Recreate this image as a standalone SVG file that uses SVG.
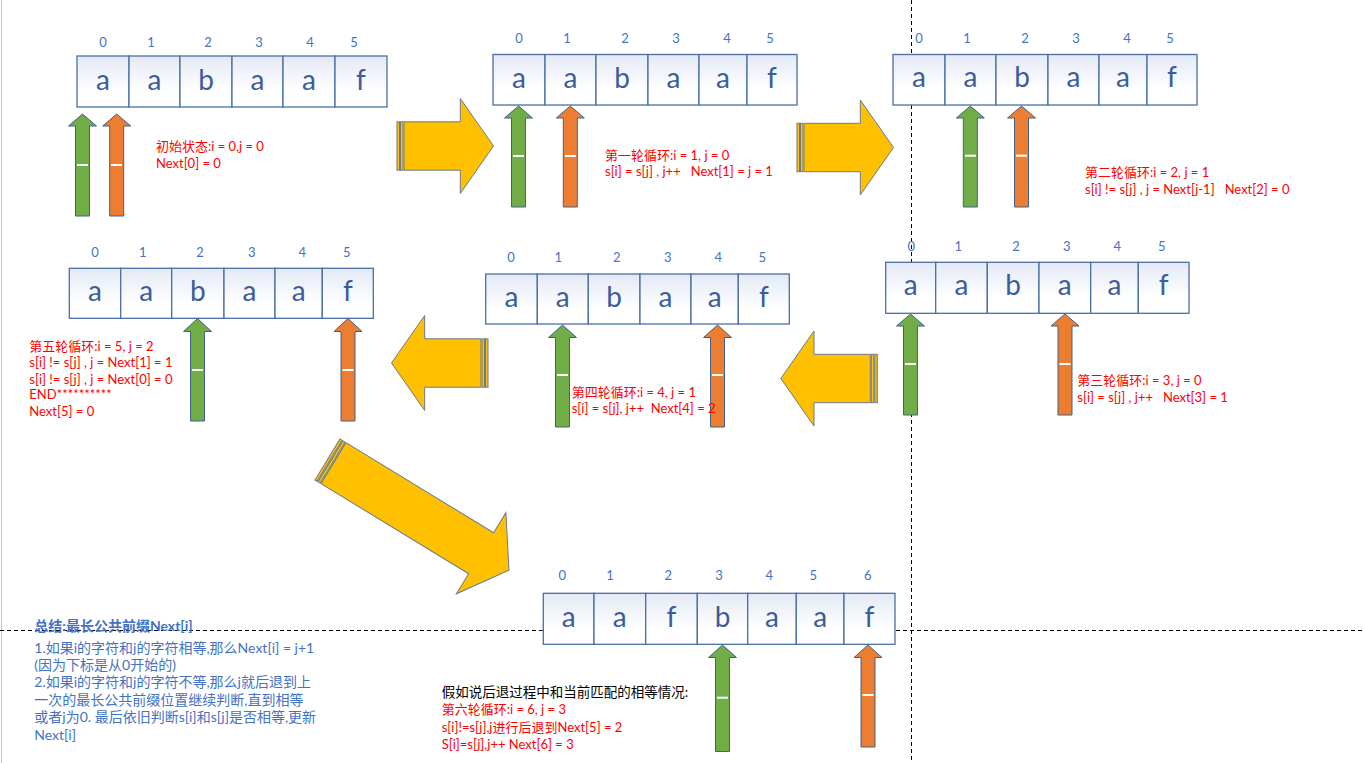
<svg xmlns="http://www.w3.org/2000/svg" width="1363" height="763" viewBox="0 0 1363 763">
<defs>
<linearGradient id="cg" x1="0" y1="0" x2="0" y2="1">
<stop offset="0" stop-color="#e3e9f5"/>
<stop offset="0.7" stop-color="#ffffff"/>
</linearGradient>
<g id="yarrow">
<rect x="0" y="-24.2" width="2.5" height="48.4" class="y"/>
<rect x="3.5" y="-24.2" width="2.5" height="48.4" class="y"/>
<polygon points="7,-24.2 63.3,-24.2 63.3,-47.5 96.5,0 63.3,47.5 63.3,24.2 7,24.2" class="y"/>
</g>
</defs>
<style>
.cell{fill:url(#cg);stroke:#4a6fa5;stroke-width:1.3}
.ch{font-family:Lato,"Noto Sans",sans-serif;font-size:28px;fill:#3c5d9c;text-anchor:middle}
.idx{font-family:Lato,"Noto Sans",sans-serif;font-size:13px;fill:#4472c4;text-anchor:middle}
.g{fill:#70ad47;stroke:#41618c;stroke-width:1}
.o{fill:#ed7d31;stroke:#41618c;stroke-width:1}
.wd{stroke:#ffffff;stroke-width:2}
.red{font-family:Lato,"Noto Sans CJK SC",sans-serif;font-size:13px;fill:#ff0000}
.sum{font-family:Lato,"Noto Sans CJK SC",sans-serif;font-size:14px;fill:#4472c4}
.blk{font-family:Lato,"Noto Sans CJK SC",sans-serif;font-size:13.5px;fill:#000000}
.y{fill:#ffc000;stroke:#6b7a8f;stroke-width:1}
.dl{stroke:#000;stroke-width:1;stroke-dasharray:4 3;fill:none}
</style>
<rect width="1363" height="763" fill="#ffffff"/>
<g id="guides">
<line x1="1.5" y1="0" x2="1.5" y2="763" stroke="#c8c8c8" stroke-width="1"/>
<line class="dl" x1="911.5" y1="0" x2="911.5" y2="763"/>
<line class="dl" x1="0" y1="630.5" x2="1363" y2="630.5"/>
</g>
<g id="connectors">
<use href="#yarrow" transform="translate(397,146)"/>
<use href="#yarrow" transform="translate(797,147.5)"/>
<use href="#yarrow" transform="translate(488,363) scale(-1,1)"/>
<use href="#yarrow" transform="translate(877.3,378.5) scale(-1,1)"/>
<g transform="translate(327.5,459.5) rotate(31.4)">
<rect x="0" y="-24" width="2.5" height="48" class="y"/>
<rect x="3.5" y="-24" width="2.5" height="48" class="y"/>
<polygon points="7,-24 180,-24 180,-47.5 212.6,0 180,47.5 180,24 7,24" class="y"/>
</g>
</g>
<g id="step0">
<text class="idx" x="103" y="46.5">0</text><text class="idx" x="151" y="46.5">1</text><text class="idx" x="208" y="46.5">2</text><text class="idx" x="259" y="46.5">3</text><text class="idx" x="310" y="46.5">4</text><text class="idx" x="354" y="46.5">5</text>
<rect class="cell" x="77" y="56" width="52" height="51"/><rect class="cell" x="129" y="56" width="51" height="51"/><rect class="cell" x="180" y="56" width="52" height="51"/><rect class="cell" x="232" y="56" width="51" height="51"/><rect class="cell" x="283" y="56" width="52" height="51"/><rect class="cell" x="335" y="56" width="52" height="51"/>
<text class="ch" x="103" y="90">a</text><text class="ch" x="154.5" y="90">a</text><text class="ch" x="206" y="90">b</text><text class="ch" x="257.5" y="90">a</text><text class="ch" x="309" y="90">a</text><text class="ch" x="361" y="90">f</text>
<polygon class="g" points="82.5,114 96.5,126 89.5,126 89.5,216 75.5,216 75.5,126 68.5,126"/>
<polygon class="o" points="116.7,114 130.7,126 123.7,126 123.7,216 109.7,216 109.7,126 102.7,126"/>
<line class="wd" x1="77" y1="165" x2="88" y2="165"/><line class="wd" x1="111" y1="165" x2="122" y2="165"/>
<text class="red" x="156" y="151">初始状态:i = 0,j = 0</text>
<text class="red" x="156" y="167.7">Next[0] = 0</text>
</g>
<g id="step1">
<text class="idx" x="519" y="43.3">0</text><text class="idx" x="567" y="43.3">1</text><text class="idx" x="625" y="43.3">2</text><text class="idx" x="676" y="43.3">3</text><text class="idx" x="727" y="43.3">4</text><text class="idx" x="770" y="43.3">5</text>
<rect class="cell" x="493" y="54.5" width="52" height="50.5"/><rect class="cell" x="545" y="54.5" width="51" height="50.5"/><rect class="cell" x="596" y="54.5" width="52" height="50.5"/><rect class="cell" x="648" y="54.5" width="51" height="50.5"/><rect class="cell" x="699" y="54.5" width="48" height="50.5"/><rect class="cell" x="747" y="54.5" width="50" height="50.5"/>
<text class="ch" x="519" y="87.5">a</text><text class="ch" x="570.5" y="87.5">a</text><text class="ch" x="622" y="87.5">b</text><text class="ch" x="673.5" y="87.5">a</text><text class="ch" x="723" y="87.5">a</text><text class="ch" x="772" y="87.5">f</text>
<polygon class="g" points="518.5,106 532.5,118 525.5,118 525.5,207 511.5,207 511.5,118 504.5,118"/>
<polygon class="o" points="570.3,106 584.3,118 577.3,118 577.3,207 563.3,207 563.3,118 556.3,118"/>
<line class="wd" x1="513" y1="156" x2="524" y2="156"/><line class="wd" x1="565" y1="156" x2="576" y2="156"/>
<text class="red" x="605" y="160">第一轮循环:i = 1, j = 0</text>
<text class="red" x="605" y="176" xml:space="preserve">s[i] = s[j] , j++   Next[1] = j = 1</text>
</g>
<g id="step2">
<text class="idx" x="919" y="43.3">0</text><text class="idx" x="967" y="43.3">1</text><text class="idx" x="1025" y="43.3">2</text><text class="idx" x="1076" y="43.3">3</text><text class="idx" x="1127" y="43.3">4</text><text class="idx" x="1170" y="43.3">5</text>
<rect class="cell" x="893" y="54.5" width="52" height="50.5"/><rect class="cell" x="945" y="54.5" width="51" height="50.5"/><rect class="cell" x="996" y="54.5" width="52" height="50.5"/><rect class="cell" x="1048" y="54.5" width="51" height="50.5"/><rect class="cell" x="1099" y="54.5" width="48" height="50.5"/><rect class="cell" x="1147" y="54.5" width="50" height="50.5"/>
<text class="ch" x="919" y="86.5">a</text><text class="ch" x="970.5" y="86.5">a</text><text class="ch" x="1022" y="86.5">b</text><text class="ch" x="1073.5" y="86.5">a</text><text class="ch" x="1123" y="86.5">a</text><text class="ch" x="1172" y="86.5">f</text>
<polygon class="g" points="970.3,106 984.3,118 977.3,118 977.3,207 963.3,207 963.3,118 956.3,118"/>
<polygon class="o" points="1021.5,106 1035.5,118 1028.5,118 1028.5,207 1014.5,207 1014.5,118 1007.5,118"/>
<line class="wd" x1="965" y1="155.7" x2="976" y2="155.7"/><line class="wd" x1="1016" y1="155.7" x2="1027" y2="155.7"/>
<text class="red" x="1085" y="176.7">第二轮循环:i = 2, j = 1</text>
<text class="red" x="1085" y="194" xml:space="preserve">s[i] != s[j] , j = Next[j-1]   Next[2] = 0</text>
</g>
<g id="step3">
<text class="idx" x="911.3" y="250.7">0</text><text class="idx" x="958.3" y="250.7">1</text><text class="idx" x="1016" y="250.7">2</text><text class="idx" x="1066.7" y="250.7">3</text><text class="idx" x="1117.3" y="250.7">4</text><text class="idx" x="1161.7" y="250.7">5</text>
<rect class="cell" x="885.7" y="262.3" width="50" height="51"/><rect class="cell" x="935.7" y="262.3" width="51.6" height="51"/><rect class="cell" x="987.3" y="262.3" width="51.7" height="51"/><rect class="cell" x="1039" y="262.3" width="51.7" height="51"/><rect class="cell" x="1090.7" y="262.3" width="47.6" height="51"/><rect class="cell" x="1138.3" y="262.3" width="50.7" height="51"/>
<text class="ch" x="910.7" y="295">a</text><text class="ch" x="961.5" y="295">a</text><text class="ch" x="1013" y="295">b</text><text class="ch" x="1064.8" y="295">a</text><text class="ch" x="1114.5" y="295">a</text><text class="ch" x="1163.6" y="295">f</text>
<polygon class="g" points="910.5,314 924.5,326 917.5,326 917.5,415 903.5,415 903.5,326 896.5,326"/>
<polygon class="o" points="1065,314 1079,326 1072,326 1072,415 1058,415 1058,326 1051,326"/>
<line class="wd" x1="905" y1="364" x2="916" y2="364"/><line class="wd" x1="1059.5" y1="364" x2="1070.5" y2="364"/>
<text class="red" x="1077.3" y="385">第三轮循环:i = 3, j = 0</text>
<text class="red" x="1077.3" y="401.7" xml:space="preserve">s[i] = s[j] , j++   Next[3] = 1</text>
</g>
<g id="step4">
<text class="idx" x="511" y="261.7">0</text><text class="idx" x="558.3" y="261.7">1</text><text class="idx" x="616.7" y="261.7">2</text><text class="idx" x="667.7" y="261.7">3</text><text class="idx" x="718.3" y="261.7">4</text><text class="idx" x="762.3" y="261.7">5</text>
<rect class="cell" x="485.7" y="274" width="51.6" height="50"/><rect class="cell" x="537.3" y="274" width="51" height="50"/><rect class="cell" x="588.3" y="274" width="51.7" height="50"/><rect class="cell" x="640" y="274" width="51" height="50"/><rect class="cell" x="691" y="274" width="47.3" height="50"/><rect class="cell" x="738.3" y="274" width="51" height="50"/>
<text class="ch" x="511.5" y="306.7">a</text><text class="ch" x="562.8" y="306.7">a</text><text class="ch" x="614.2" y="306.7">b</text><text class="ch" x="665.5" y="306.7">a</text><text class="ch" x="714.7" y="306.7">a</text><text class="ch" x="763.8" y="306.7">f</text>
<polygon class="g" points="562.5,325 576.5,337.5 569.5,337.5 569.5,427 555.5,427 555.5,337.5 548.5,337.5"/>
<polygon class="o" points="717.5,325 731.5,337.5 724.5,337.5 724.5,427 710.5,427 710.5,337.5 703.5,337.5"/>
<line class="wd" x1="557" y1="375" x2="568" y2="375"/><line class="wd" x1="712" y1="375" x2="723" y2="375"/>
<text class="red" x="571.7" y="397.3">第四轮循环:i = 4, j = 1</text>
<text class="red" x="571.7" y="412.7" xml:space="preserve">s[i] = s[j], j++  Next[4] = 2</text>
</g>
<g id="step5">
<text class="idx" x="95" y="256.7">0</text><text class="idx" x="142.7" y="256.7">1</text><text class="idx" x="200" y="256.7">2</text><text class="idx" x="251.7" y="256.7">3</text><text class="idx" x="302.3" y="256.7">4</text><text class="idx" x="346.7" y="256.7">5</text>
<rect class="cell" x="69.3" y="268.3" width="51.4" height="50"/><rect class="cell" x="120.7" y="268.3" width="51" height="50"/><rect class="cell" x="171.7" y="268.3" width="52.3" height="50"/><rect class="cell" x="224" y="268.3" width="51" height="50"/><rect class="cell" x="275" y="268.3" width="47.3" height="50"/><rect class="cell" x="322.3" y="268.3" width="51" height="50"/>
<text class="ch" x="95" y="300.7">a</text><text class="ch" x="146.2" y="300.7">a</text><text class="ch" x="197.8" y="300.7">b</text><text class="ch" x="249.5" y="300.7">a</text><text class="ch" x="298.7" y="300.7">a</text><text class="ch" x="347.8" y="300.7">f</text>
<polygon class="g" points="197.5,318.5 211.5,331.5 204.5,331.5 204.5,421 190.5,421 190.5,331.5 183.5,331.5"/>
<polygon class="o" points="348,318.5 362,331.5 355,331.5 355,421 341,421 341,331.5 334,331.5"/>
<line class="wd" x1="192" y1="370" x2="203" y2="370"/><line class="wd" x1="342.5" y1="370" x2="353.5" y2="370"/>
<text class="red" x="29.3" y="350.7">第五轮循环:i = 5, j = 2</text>
<text class="red" x="29.3" y="367.3">s[i] != s[j] , j = Next[1] = 1</text>
<text class="red" x="29.3" y="384">s[i] != s[j] , j = Next[0] = 0</text>
<text class="red" x="29.3" y="399.3">END**********</text>
<text class="red" x="29.3" y="415.7">Next[5] = 0</text>
</g>
<g id="step6">
<text class="idx" x="562.3" y="580">0</text><text class="idx" x="610" y="580">1</text><text class="idx" x="668.3" y="580">2</text><text class="idx" x="719" y="580">3</text><text class="idx" x="769.3" y="580">4</text><text class="idx" x="813.3" y="580">5</text><text class="idx" x="867.7" y="580">6</text>
<rect class="cell" x="543.3" y="593.3" width="50.7" height="51"/><rect class="cell" x="594" y="593.3" width="51.7" height="51"/><rect class="cell" x="645.7" y="593.3" width="51.6" height="51"/><rect class="cell" x="697.3" y="593.3" width="50.4" height="51"/><rect class="cell" x="747.7" y="593.3" width="48.6" height="51"/><rect class="cell" x="796.3" y="593.3" width="47.7" height="51"/><rect class="cell" x="844" y="593.3" width="51" height="51"/>
<text class="ch" x="568.6" y="626.7">a</text><text class="ch" x="619.8" y="626.7">a</text><text class="ch" x="671.5" y="626.7">f</text><text class="ch" x="722.5" y="626.7">b</text><text class="ch" x="772" y="626.7">a</text><text class="ch" x="820.2" y="626.7">a</text><text class="ch" x="869.5" y="626.7">f</text>
<polygon class="g" points="722.5,645 736.5,657.5 729.5,657.5 729.5,751.5 715.5,751.5 715.5,657.5 708.5,657.5"/>
<polygon class="o" points="868,645 882,657.5 875,657.5 875,747 861,747 861,657.5 854,657.5"/>
<line class="wd" x1="717" y1="697.7" x2="728" y2="697.7"/><line class="wd" x1="862.5" y1="695" x2="873.5" y2="695"/>
<text class="blk" x="441.7" y="696.7">假如说后退过程中和当前匹配的相等情况:</text>
<text class="red" x="441.7" y="714">第六轮循环:i = 6, j = 3</text>
<text class="red" x="441.7" y="731.7">s[i]!=s[j],j进行后退到Next[5] = 2</text>
<text class="red" x="441.7" y="749">S[i]=s[j],j++ Next[6] = 3</text>
</g>
<g id="summary">
<text class="sum" x="34.3" y="630.7" font-weight="bold">总结:最长公共前缀Next[i]</text>
<text class="sum" x="34.3" y="652.7">1.如果i的字符和j的字符相等,那么Next[i] = j+1</text>
<text class="sum" x="34.3" y="670">(因为下标是从0开始的)</text>
<text class="sum" x="34.3" y="687.3">2.如果i的字符和j的字符不等,那么j就后退到上</text>
<text class="sum" x="34.3" y="705">一次的最长公共前缀位置继续判断,直到相等</text>
<text class="sum" x="34.3" y="722.3">或者j为0. 最后依旧判断s[i]和s[j]是否相等,更新</text>
<text class="sum" x="34.3" y="740">Next[i]</text>
</g>
</svg>
